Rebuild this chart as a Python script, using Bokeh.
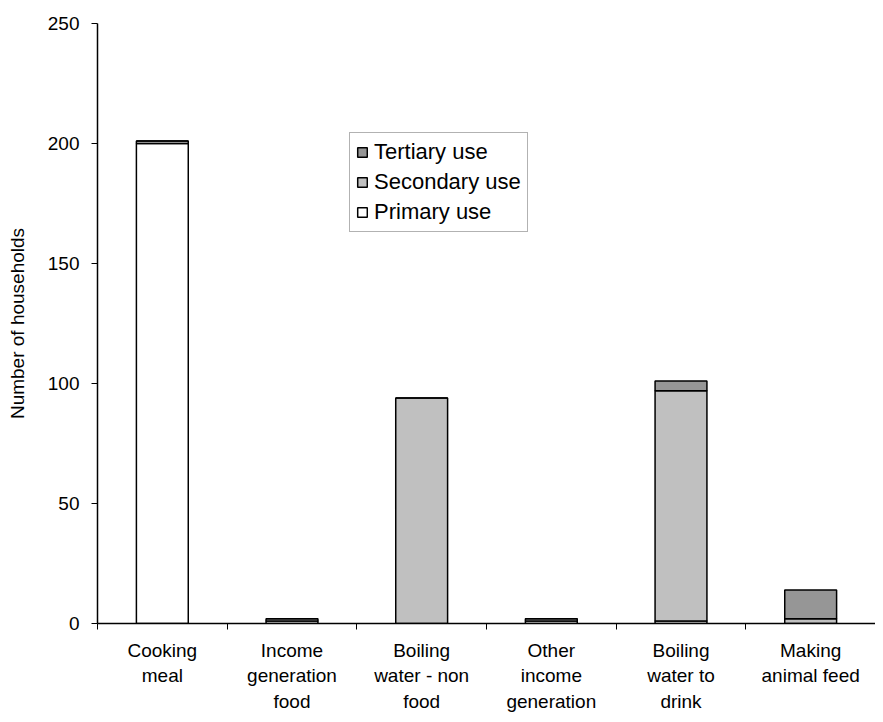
from bokeh.plotting import figure
from bokeh.models import FixedTicker, Range1d, Legend, LegendItem, ColumnDataSource
from bokeh.embed import file_html
from bokeh.resources import INLINE

categories = ["Cooking\nmeal", "Income\ngeneration\nfood", "Boiling\nwater - non\nfood",
              "Other\nincome\ngeneration", "Boiling\nwater to\ndrink", "Making\nanimal feed"]
primary = [200, 1, 0, 1, 1, 0]
secondary = [1, 1, 94, 1, 96, 2]
tertiary = [0, 0, 0, 0, 4, 12]
y_ticks = [0, 50, 100, 150, 200, 250]
series_names = ["Primary use", "Secondary use", "Tertiary use"]
series_colors = ["#FFFFFF", "#C0C0C0", "#969696"]

FONT = "Liberation Sans"

centers = [i + 0.5 for i in range(len(categories))]
source = ColumnDataSource(dict(x=centers, primary=primary, secondary=secondary, tertiary=tertiary))

p = figure(width=875, height=714, output_backend="svg", toolbar_location=None,
           x_range=Range1d(0, len(categories)), y_range=Range1d(0, 250),
           min_border_left=97, min_border_top=23, min_border_bottom=91, min_border_right=0)
p.outline_line_color = None
p.xgrid.visible = False
p.ygrid.visible = False

rs = p.vbar_stack(["primary", "secondary", "tertiary"], x="x", width=0.4, source=source,
                  fill_color=series_colors, line_color="black", line_width=1.5)

items = [LegendItem(label=series_names[i], renderers=[rs[i]]) for i in (2, 1, 0)]
legend = Legend(items=items, location=(252, 391))
legend.label_text_font = FONT
legend.label_text_font_size = "22px"
legend.label_text_color = "black"
legend.glyph_width = 12
legend.glyph_height = 12
legend.label_standoff = 6
legend.spacing = 4
legend.padding = 6
legend.margin = 0
legend.border_line_color = "#666666"
legend.border_line_width = 1
legend.background_fill_color = "white"
legend.background_fill_alpha = 1
p.add_layout(legend)

xa = p.xaxis[0]
xa.ticker = FixedTicker(ticks=centers, minor_ticks=list(range(len(categories) + 1)))
xa.major_label_overrides = {c: lab for c, lab in zip(centers, categories)}
xa.major_tick_out = 0
xa.major_tick_in = 0
xa.minor_tick_out = 6
xa.minor_tick_in = 0
xa.minor_tick_line_color = "black"
xa.axis_line_color = "black"
xa.axis_line_width = 1.5
xa.major_label_standoff = 10
xa.major_label_text_font = FONT
xa.major_label_text_font_size = "19px"
xa.major_label_text_line_height = 1.22
xa.major_label_text_color = "black"
xa.major_label_orientation = "horizontal"

ya = p.yaxis[0]
ya.ticker = FixedTicker(ticks=y_ticks, minor_ticks=[])
ya.major_tick_out = 6
ya.major_tick_in = 0
ya.major_tick_line_color = "black"
ya.axis_line_color = "black"
ya.axis_line_width = 1.5
ya.major_label_standoff = 12
ya.major_label_text_font = FONT
ya.major_label_text_font_size = "19px"
ya.major_label_text_color = "black"
ya.axis_label = "Number of households"
ya.axis_label_text_font = FONT
ya.axis_label_text_font_size = "19px"
ya.axis_label_text_font_style = "normal"
ya.axis_label_text_color = "black"
ya.axis_label_standoff = 17

open("out.html", "w").write(file_html(p, INLINE))
